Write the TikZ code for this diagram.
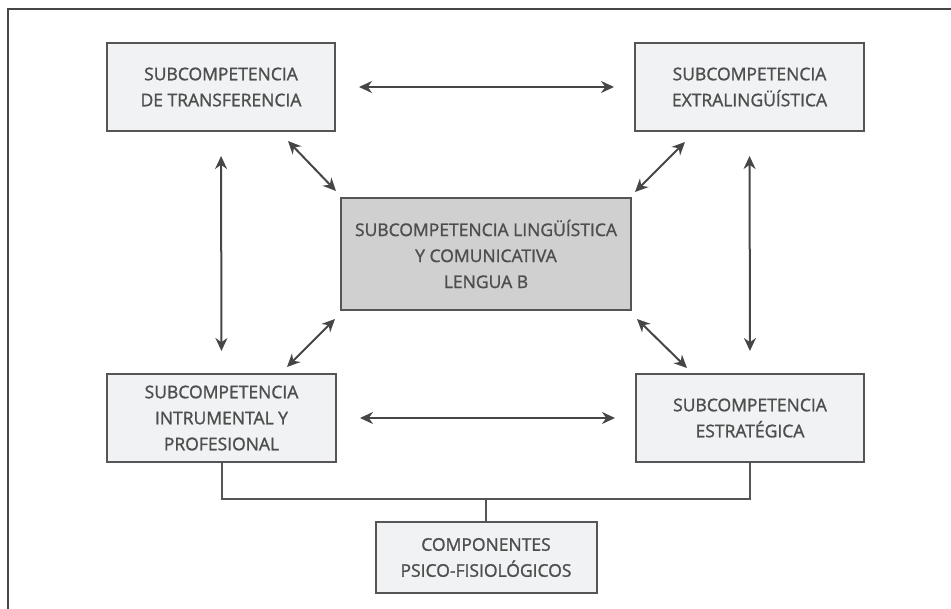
\documentclass[tikz,border=0pt]{standalone}
\usepackage{fontspec}
\setmainfont{Open Sans}[FakeBold=1.3,AutoFakeBold=1.3]
\usetikzlibrary{arrows.meta,calc}
\definecolor{boxfill}{RGB}{241,242,243}
\definecolor{midfill}{RGB}{208,208,208}
\definecolor{edge}{RGB}{85,85,85}
\definecolor{txt}{RGB}{78,78,78}
\definecolor{arr}{RGB}{70,70,70}
\tikzset{
  box/.style={draw=edge, line width=2pt, fill=boxfill, text=txt, align=center,
    font=\fontsize{17.5}{26}\selectfont\bfseries, inner sep=0pt},
  dbl/.style={draw=arr, line width=2pt, {Stealth[length=13pt,width=12pt]}-{Stealth[length=13pt,width=12pt]}},
  link/.style={draw=edge, line width=2pt}
}
\begin{document}
\begin{tikzpicture}[x=1pt,y=-1pt]
\useasboundingbox (0,0) rectangle (951,609);
\draw[line width=1.5pt, draw=arr] (8,612) -- (8,9) -- (955,9);

\node[box, minimum width=228pt, minimum height=88pt] (TL) at (221,87) {SUBCOMPETENCIA\\DE TRANSFERENCIA};
\node[box, minimum width=229pt, minimum height=88pt] (TR) at (749.5,87) {SUBCOMPETENCIA\\EXTRALINGÜÍSTICA};
\node[box, fill=midfill, minimum width=290pt, minimum height=112pt] (C) at (486,254) {SUBCOMPETENCIA LINGÜÍSTICA\\Y COMUNICATIVA\\LENGUA B};
\node[box, minimum width=229pt, minimum height=88pt] (BL) at (221.5,418) {SUBCOMPETENCIA\\INTRUMENTAL Y\\PROFESIONAL};
\node[box, minimum width=228pt, minimum height=88pt] (BR) at (750,418) {SUBCOMPETENCIA\\ESTRATÉGICA};
\node[box, minimum width=221pt, minimum height=71pt] (B) at (486,557.5) {COMPONENTES\\PSICO-FISIOLÓGICOS};

% horizontal arrows
\draw[dbl, shorten <=23pt, shorten >=20pt] (TL.east) -- (TR.west);
\draw[dbl, shorten <=23pt, shorten >=20pt] (BL.east) -- (BR.west);
% vertical arrows
\draw[dbl, shorten <=24pt, shorten >=22pt] (TL.south) -- (BL.north);
\draw[dbl, shorten <=24pt, shorten >=22pt] (TR.south) -- (BR.north);
% diagonals
\draw[dbl] ([xshift=-48pt,yshift=-9pt]TL.south east) -- ([xshift=-4pt,yshift=6pt]C.north west);
\draw[dbl] ([xshift=51pt,yshift=-10pt]TR.south west) -- ([xshift=3pt,yshift=5pt]C.north east);
\draw[dbl] ([xshift=-50pt,yshift=6pt]BL.north east) -- ([xshift=-5pt,yshift=-8pt]C.south west);
\draw[dbl] ([xshift=52pt,yshift=5pt]BR.north west) -- ([xshift=5pt,yshift=-8pt]C.south east);

% bottom connector
\coordinate (j) at (486,499);
\draw[link] (BL.south) -- (BL.south |- j) -- (BR.south |- j) -- (BR.south);
\draw[link, line width=1.5pt] (j) -- (B.north);
\end{tikzpicture}
\end{document}
